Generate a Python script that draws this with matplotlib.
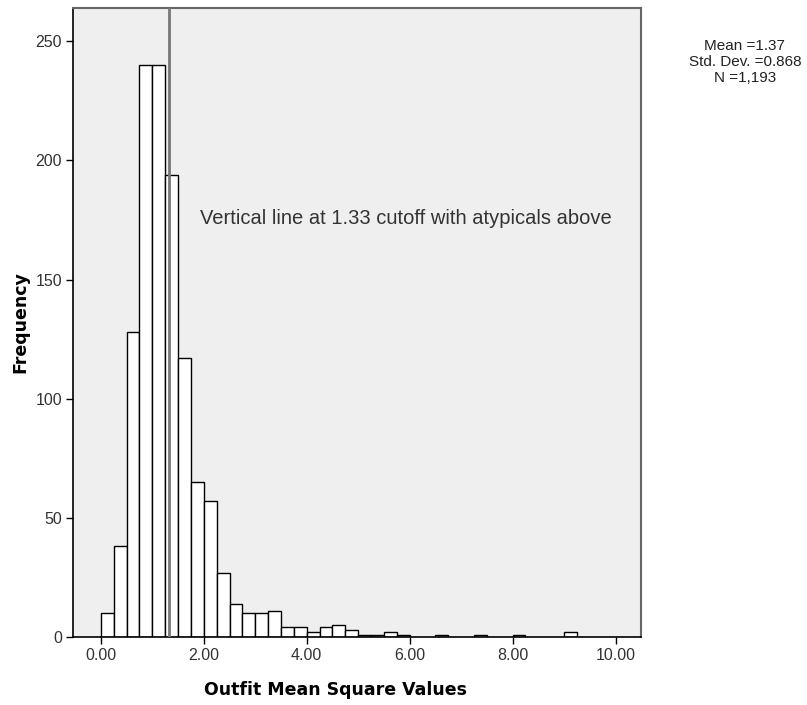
import numpy as np
import matplotlib
matplotlib.use('Agg')
from matplotlib import pyplot as plt

plt.rcParams['font.family'] = ['Liberation Sans', 'DejaVu Sans']

# histogram bins of width 0.25 starting at 0.00
bin_starts = [0.00, 0.25, 0.50, 0.75, 1.00, 1.25, 1.50, 1.75, 2.00, 2.25,
              2.50, 2.75, 3.00, 3.25, 3.50, 3.75, 4.00, 4.25, 4.50, 4.75,
              5.00, 5.25, 5.50, 5.75, 6.50, 7.25, 8.00, 9.00]
counts = [10, 38, 128, 240, 240, 194, 117, 65, 57, 27,
          14, 10, 10, 11, 4, 4, 2, 4, 5, 3,
          1, 1, 2, 1, 1, 1, 1, 2]
bin_width = 0.25
cutoff = 1.33
x_ticks = [0, 2, 4, 6, 8, 10]
y_ticks = [0, 50, 100, 150, 200, 250]
stats_text = "Mean =1.37\nStd. Dev. =0.868\nN =1,193"

fig = plt.figure(figsize=(8.07, 7.05), dpi=100)
ax = fig.add_axes([0.0905, 0.0965, 0.7035, 0.8922])
ax.set_facecolor('#efefef')

ax.bar(bin_starts, counts, width=bin_width, align='edge',
       color='white', edgecolor='black', linewidth=1.0, zorder=2)
ax.axvline(cutoff, color='#777777', linewidth=2, zorder=3)

ax.set_xlim(-0.54, 10.49)
ax.set_ylim(0, 264)
ax.set_xticks(x_ticks)
ax.set_xticklabels(['%.2f' % v for v in x_ticks])
ax.set_yticks(y_ticks)
ax.tick_params(direction='out', length=5, width=1, colors='black',
               labelcolor='#333333', labelsize=11.5, pad=3)

for side in ['top', 'right']:
    ax.spines[side].set_color('#666666')
    ax.spines[side].set_linewidth(1.5)
for side in ['left', 'bottom']:
    ax.spines[side].set_color('black')
    ax.spines[side].set_linewidth(1.2)

# axis titles placed like the SPSS output (x title sits left of axes centre)
fig.text(336 / 807, 1 - 690 / 705, 'Outfit Mean Square Values', fontsize=12.5,
         fontweight='bold', family='DejaVu Sans', ha='center', va='center')
fig.text(20 / 807, 1 - 322 / 705, 'Frequency', fontsize=12.5, rotation=90,
         fontweight='bold', family='DejaVu Sans', ha='center', va='center')

ax.text(1.93, 175.5, 'Vertical line at 1.33 cutoff with atypicals above',
        fontsize=14.5, color='#333333', va='center', ha='left')

fig.text(0.923, 0.912, stats_text, fontsize=11, ha='center', va='center',
         color='#222222', linespacing=1.2)

fig.savefig('out.png', dpi=100)
